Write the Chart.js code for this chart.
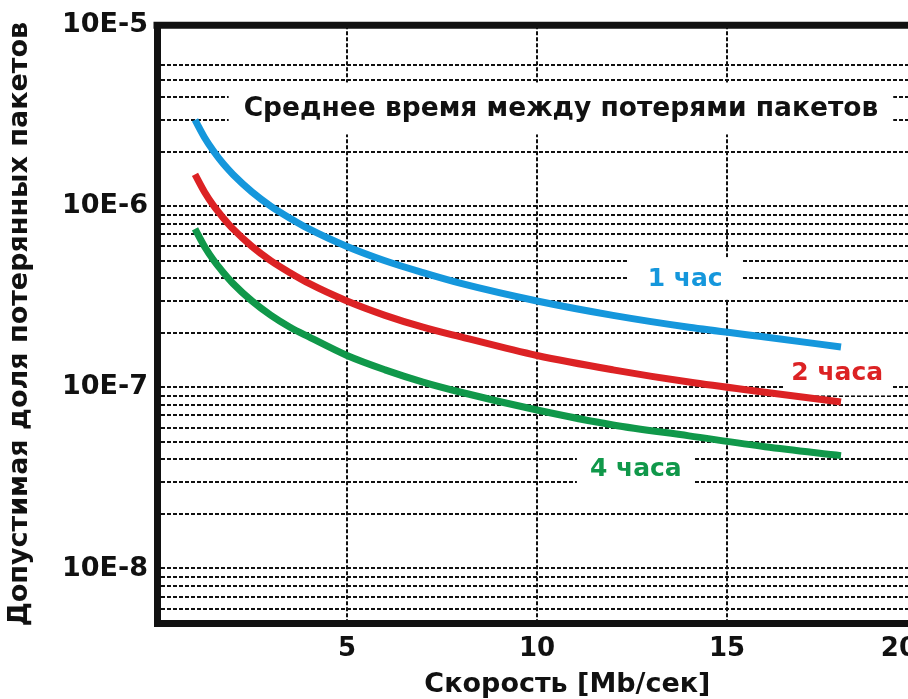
<!DOCTYPE html>
<html>
<head>
<meta charset="utf-8">
<script src="https://cdn.jsdelivr.net/npm/chart.js@4.4.1/dist/chart.umd.min.js"></script>
<style>
  html, body { margin: 0; padding: 0; background: #fff; }
  #wrap { width: 908px; height: 699px; overflow: hidden; }
</style>
</head>
<body>
<div id="wrap"><canvas id="myChart" width="930" height="699"></canvas></div>
<script>
// data
var speeds = [1, 1.25, 1.5, 1.75, 2, 2.5, 3, 3.5, 4, 5, 6, 7, 8, 10, 12, 14, 16, 18];
var loss1h = [3.0e-6, 2.4e-6, 2.0e-6, 1.71e-6, 1.5e-6, 1.2e-6, 1.0e-6, 8.6e-7, 7.5e-7, 6.0e-7, 5.0e-7, 4.3e-7, 3.75e-7, 3.0e-7, 2.5e-7, 2.15e-7, 1.9e-7, 1.67e-7];
var loss2h = [1.5e-6, 1.2e-6, 1.0e-6, 8.6e-7, 7.5e-7, 6.0e-7, 5.0e-7, 4.3e-7, 3.75e-7, 3.0e-7, 2.5e-7, 2.15e-7, 1.9e-7, 1.5e-7, 1.25e-7, 1.07e-7, 9.4e-8, 8.3e-8];
var loss4h = [7.5e-7, 6.0e-7, 5.0e-7, 4.3e-7, 3.75e-7, 3.0e-7, 2.5e-7, 2.15e-7, 1.9e-7, 1.5e-7, 1.25e-7, 1.07e-7, 9.4e-8, 7.5e-8, 6.2e-8, 5.4e-8, 4.7e-8, 4.2e-8];
var seriesNames = ['1 час', '2 часа', '4 часа'];

var xTicks = [0, 5, 10, 15, 20];
var xTickLabels = ['', '5', '10', '15', '20'];
var yGrid = [5e-9, 6e-9, 7e-9, 8e-9, 9e-9,
  1e-8, 2e-8, 3e-8, 4e-8, 5e-8, 6e-8, 7e-8, 8e-8, 9e-8,
  1e-7, 2e-7, 3e-7, 4e-7, 5e-7, 6e-7, 7e-7, 8e-7, 9e-7,
  1e-6, 2e-6, 3e-6, 4e-6, 5e-6, 6e-6, 1e-5];
var yTickValues = [1e-8, 1e-7, 1e-6, 1e-5];
var yTickLabels = ['10E-8', '10E-7', '10E-6', '10E-5'];

var chartTitle = 'Среднее время между потерями пакетов';
var xTitle = 'Скорость [Mb/сек]';
var yTitle = 'Допустимая доля потерянных пакетов';

var FONT = '"DejaVu Sans", Verdana, sans-serif';
var colors = ['#1597dc', '#dc2224', '#10984a'];

function toPoints(ys) {
  return speeds.map(function (s, i) { return { x: s, y: ys[i] }; });
}

// text boxes on top of the grid (white background hides the dashes)
var notes = [
  { text: chartTitle,     color: '#111',    x: 10.63, y: 3.47e-6, size: 26.5, padX: 15, h: 52 },
  { text: seriesNames[0], color: colors[0], x: 13.9,  y: 4.0e-7,  size: 25, padX: 19, h: 42 },
  { text: seriesNames[1], color: colors[1], x: 17.9,  y: 1.21e-7, size: 25, padX: 8,  h: 46 },
  { text: seriesNames[2], color: colors[2], x: 12.6,  y: 3.56e-8, size: 25, padX: 13, h: 44 }
];

var notesPlugin = {
  id: 'notes',
  beforeDatasetsDraw: function (chart) {
    var ctx = chart.ctx, a = chart.chartArea;
    var xs = chart.scales.x, ys = chart.scales.y;
    ctx.save();
    // top edge of the frame
    ctx.strokeStyle = '#111';
    ctx.lineWidth = 7;
    ctx.beginPath();
    ctx.moveTo(a.left - 3.5, a.top);
    ctx.lineTo(a.right, a.top);
    ctx.stroke();

    ctx.textAlign = 'center';
    ctx.textBaseline = 'middle';
    notes.forEach(function (n) {
      ctx.font = 'bold ' + n.size + 'px ' + FONT;
      var px = xs.getPixelForValue(n.x), py = ys.getPixelForValue(n.y);
      var w = ctx.measureText(n.text).width;
      ctx.fillStyle = '#fff';
      ctx.fillRect(px - w / 2 - n.padX, py - n.h / 2, w + 2 * n.padX, n.h);
      ctx.fillStyle = n.color;
      ctx.fillText(n.text, px, py + 1);
    });
    ctx.restore();
  },
  afterDraw: function (chart) {
    // x title sits a bit right of the axis centre in the original
    var ctx = chart.ctx, a = chart.chartArea;
    ctx.save();
    ctx.font = 'bold 27px ' + FONT;
    ctx.fillStyle = '#111';
    ctx.textAlign = 'center';
    ctx.textBaseline = 'middle';
    ctx.fillText(xTitle, chart.scales.x.getPixelForValue(10.8), a.bottom + 62);
    ctx.restore();
  }
};

var ctx = document.getElementById('myChart');
var myChart = new Chart(ctx, {
  type: 'line',
  data: {
    datasets: [loss1h, loss2h, loss4h].map(function (d, i) {
      return {
        label: seriesNames[i],
        data: toPoints(d),
        borderColor: colors[i],
        borderWidth: 7,
        pointRadius: 0,
        fill: false,
        cubicInterpolationMode: 'monotone'
      };
    })
  },
  options: {
    responsive: false,
    animation: false,
    devicePixelRatio: 1,
    layout: { padding: { top: 20, right: 13, left: 0, bottom: 0 } },
    plugins: {
      legend: { display: false },
      tooltip: { enabled: false }
    },
    scales: {
      x: {
        type: 'linear',
        min: 0,
        max: 20,
        afterBuildTicks: function (scale) {
          scale.ticks = xTicks.map(function (v) { return { value: v }; });
        },
        afterFit: function (scale) { scale.height = 76; },
        grid: { color: '#111', lineWidth: 2, drawTicks: false },
        border: { display: true, color: '#111', width: 7, dash: [4, 2] },
        ticks: {
          autoSkip: false,
          maxRotation: 0,
          align: 'inner',
          padding: 11,
          color: '#111',
          font: { family: FONT, size: 26, weight: 'bold' },
          callback: function (v) {
            var i = xTicks.indexOf(v);
            return i >= 0 ? xTickLabels[i] : '';
          }
        }
      },
      y: {
        type: 'logarithmic',
        min: 5e-9,
        max: 1e-5,
        afterBuildTicks: function (scale) {
          scale.ticks = yGrid.map(function (v) { return { value: v }; });
        },
        afterFit: function (scale) { scale.width = 157; },
        grid: { color: '#111', lineWidth: 2, drawTicks: false },
        border: { display: true, color: '#111', width: 7, dash: [4, 2] },
        ticks: {
          autoSkip: false,
          padding: 9,
          color: '#111',
          font: { family: FONT, size: 27, weight: 'bold' },
          callback: function (v) {
            for (var i = 0; i < yTickValues.length; i++) {
              if (Math.abs(yTickValues[i] - v) / yTickValues[i] < 1e-6) return yTickLabels[i];
            }
            return '';
          }
        },
        title: {
          display: true,
          text: yTitle,
          color: '#111',
          padding: { top: 4, bottom: 0 },
          font: { family: FONT, size: 27, weight: 'bold' }
        }
      }
    }
  },
  plugins: [notesPlugin]
});
</script>
</body>
</html>
